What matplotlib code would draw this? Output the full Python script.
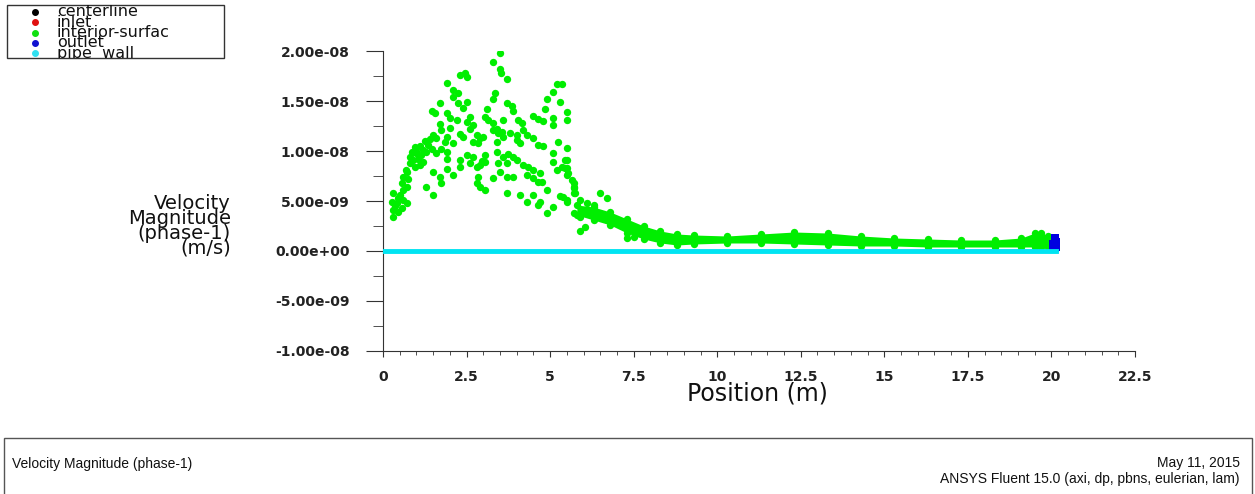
import numpy as np
import matplotlib
matplotlib.use("Agg")
import matplotlib.pyplot as plt
from matplotlib.patches import Rectangle

# velocity values below are in units of 1e-9 m/s
scatter_x = [3.50, 3.30, 3.50, 3.52, 3.70, 2.46, 2.50, 2.30, 1.91, 5.20, 5.35, 5.10,
             2.10, 2.25, 2.10, 3.35, 3.30, 3.70, 3.85, 3.90, 2.25, 2.50, 2.40, 1.70,
             4.90, 4.85, 5.30, 5.50, 5.50, 5.10, 5.10, 4.50, 4.65, 4.80, 1.46, 1.56,
             1.90, 2.00, 2.20, 2.60, 2.50, 2.70, 2.60, 3.10, 3.05, 3.15, 3.30, 3.60,
             3.40, 3.55, 4.05, 4.15, 4.20, 4.00, 1.70, 1.75, 2.00, 1.50, 1.60, 1.41,
             1.26, 1.90, 1.85, 2.10, 2.30, 2.40, 2.80, 2.90, 3.00, 2.70, 2.85, 3.30,
             3.45, 3.40, 3.60, 3.80, 4.00, 4.10, 4.30, 4.50, 4.65, 4.80, 5.25, 5.50,
             0.96, 1.10, 1.20, 1.00, 0.86, 1.30, 1.46, 1.60, 1.75, 1.90, 0.81, 0.91,
             1.06, 1.21, 0.81, 0.96, 1.10, 2.50, 2.70, 2.60, 3.05, 3.05, 3.40, 3.60,
             3.75, 3.90, 4.00, 4.20, 4.35, 1.90, 1.90, 2.30, 2.10, 2.80, 2.90, 3.45,
             3.70, 3.50, 4.50, 4.70, 4.75, 5.10, 5.10, 5.20, 5.35, 5.50, 5.45, 5.55,
             5.65, 5.70, 5.70, 1.50, 2.30, 0.71, 0.61, 0.76, 0.56, 0.71, 0.61, 1.70,
             1.75, 1.30, 1.50, 2.85, 2.80, 2.90, 3.05, 3.30, 3.70, 3.90, 4.30, 4.50,
             4.65, 3.70, 4.10, 4.30, 4.50, 4.70, 4.65, 4.90, 4.90, 5.10, 5.30, 5.50,
             0.31, 0.51, 0.26, 0.41, 0.61, 0.31, 0.46, 0.31, 0.71, 0.56, 0.36, 0.45,
             5.45, 5.50, 5.50, 5.70, 5.70, 5.75, 5.50, 5.40, 6.50, 6.70, 5.90, 6.10,
             6.30, 5.70, 5.90, 5.90, 6.05, 7.30, 7.50, 1.00, 1.15, 1.35, 0.70, 2.95]
scatter_v = [19.8, 18.9, 18.2, 17.8, 17.2, 17.8, 17.4, 17.6, 16.8, 16.7, 16.7, 15.9,
             16.1, 15.8, 15.4, 15.8, 15.2, 14.8, 14.5, 14.0, 14.8, 14.9, 14.3, 14.8,
             15.2, 14.2, 14.9, 13.9, 13.1, 13.3, 12.6, 13.5, 13.2, 13.0, 14.0, 13.8,
             13.8, 13.3, 13.1, 13.4, 12.9, 12.6, 12.2, 14.2, 13.4, 13.1, 12.8, 13.1,
             12.2, 11.9, 13.1, 12.8, 12.1, 11.6, 12.7, 12.1, 12.3, 11.6, 11.3, 11.2,
             11.0, 11.4, 10.9, 10.8, 11.7, 11.4, 11.6, 11.3, 11.4, 10.9, 10.8, 12.1,
             11.8, 10.9, 11.4, 11.8, 11.1, 10.8, 11.6, 11.3, 10.6, 10.5, 10.9, 10.3,
             10.4, 10.5, 10.1, 9.8, 9.9, 9.9, 10.2, 9.8, 10.2, 9.9, 9.4, 9.1,
             9.2, 8.9, 8.8, 8.4, 8.6, 9.6, 9.4, 8.8, 9.6, 8.9, 9.9, 9.4,
             9.7, 9.4, 9.1, 8.6, 8.4, 9.2, 8.2, 8.4, 7.6, 8.4, 8.6, 8.8,
             8.8, 7.9, 8.1, 7.8, 6.9, 9.8, 8.9, 8.1, 8.4, 9.1, 8.3, 7.8,
             7.1, 6.4, 5.8, 7.9, 9.1, 7.9, 7.4, 7.2, 6.8, 6.4, 6.1, 7.4,
             6.8, 6.4, 5.6, 7.4, 6.8, 6.4, 6.1, 7.3, 7.4, 7.4, 7.6, 7.3,
             6.9, 5.8, 5.6, 4.9, 5.6, 4.9, 4.6, 6.1, 3.8, 4.4, 5.5, 4.9,
             5.8, 5.6, 4.9, 4.8, 5.1, 4.1, 3.9, 3.4, 4.8, 4.3, 4.5, 5.3,
             9.1, 8.3, 7.6, 6.8, 6.3, 5.8, 5.1, 5.4, 5.8, 5.3, 5.1, 4.8,
             4.6, 3.8, 3.4, 2.0, 2.4, 1.3, 1.4, 10.0, 9.6, 10.6, 8.1, 9.0]

# dense band of interior-surface points downstream of x ~ 5.8 m
band_x = [5.8, 6.3, 6.8, 7.3, 7.8, 8.3, 8.8, 9.3, 10.3, 11.3, 12.3, 13.3,
          14.3, 15.3, 16.3, 17.3, 18.3, 19.1, 19.5, 19.7, 19.9, 20.05]
band_upper = [4.6, 4.4, 3.9, 3.2, 2.5, 2.0, 1.7, 1.6, 1.5, 1.7, 1.9, 1.8,
              1.5, 1.3, 1.2, 1.1, 1.1, 1.3, 1.8, 1.8, 1.5, 1.3]
band_lower = [3.6, 3.1, 2.6, 1.8, 1.2, 0.8, 0.6, 0.7, 0.8, 0.8, 0.7, 0.6,
              0.5, 0.5, 0.4, 0.4, 0.4, 0.4, 0.4, 0.4, 0.4, 0.4]

outlet_x = [20.05, 20.1, 20.15, 20.05, 20.1, 20.15, 20.1, 20.1]
outlet_v = [0.2, 0.3, 0.4, 0.7, 0.8, 0.9, 1.1, 1.3]

pipe_wall_x = [0.0, 20.15]
pipe_wall_v = [0.0, 0.0]

legend_names = ["centerline", "inlet", "interior-surfac", "outlet", "pipe  wall"]
legend_colors = ["black", "#e01010", "#10e010", "#1010d0", "#30e0f0"]

x_ticks = [0, 2.5, 5, 7.5, 10, 12.5, 15, 17.5, 20, 22.5]
y_ticks = [-1.0e-08, -5.0e-09, 0.0, 5.0e-09, 1.0e-08, 1.5e-08, 2.0e-08]

green = "#00ee00"
cyan = "#00e4f2"
blue = "#0000e0"

fig = plt.figure(figsize=(12.55, 4.94), dpi=100)
W, H = 1255, 494
ax = fig.add_axes([383 / W, 1 - 351 / H, (1135 - 383) / W, (351 - 51) / H])

e9 = 1e-9
ax.fill_between(band_x, np.array(band_lower) * e9, np.array(band_upper) * e9,
                color=green, lw=0, zorder=2)
ax.scatter(band_x, np.array(band_upper) * e9, s=28, color=green, lw=0, zorder=2)
ax.scatter(band_x, np.array(band_lower) * e9, s=28, color=green, lw=0, zorder=2)
ax.scatter(scatter_x, np.array(scatter_v) * e9, s=28, color=green, lw=0, zorder=3)
ax.scatter(outlet_x, np.array(outlet_v) * e9, s=30, marker="s", color=blue, lw=0, zorder=4)
ax.plot(pipe_wall_x, pipe_wall_v, color=cyan, lw=3.5, zorder=5)

ax.set_xlim(0, 22.5)
ax.set_ylim(-1e-8, 2e-8)
ax.spines["top"].set_visible(False)
ax.spines["right"].set_visible(False)
ax.spines["left"].set_color("#333333")
ax.spines["bottom"].set_color("#333333")

ax.set_xticks(x_ticks)
ax.set_xticklabels([f"{v:g}" for v in x_ticks])
ax.set_xticks(np.arange(0, 22.6, 0.5), minor=True)
ax.set_yticks(y_ticks)
ax.set_yticklabels([f"{v:.2e}" for v in y_ticks])
ax.set_yticks(np.arange(-1e-8, 2.01e-8, 2.5e-9), minor=True)
ax.tick_params(axis="y", which="major", length=12, pad=12, labelsize=10, colors="#333333")
ax.tick_params(axis="y", which="minor", length=7, colors="#333333")
ax.tick_params(axis="x", which="major", length=4, pad=10, labelsize=10, colors="#333333")
ax.tick_params(axis="x", which="minor", length=3, colors="#333333")
for lab in ax.get_xticklabels() + ax.get_yticklabels():
    lab.set_fontweight("bold")
    lab.set_color("#222222")

fig.text(757 / W, 1 - 394 / H, "Position (m)", ha="center", va="center",
         fontsize=17, color="#111111")
fig.text(231 / W, 1 - 226 / H, "Velocity\nMagnitude\n(phase-1)\n(m/s)",
         ha="right", va="center", fontsize=14, linespacing=0.72, multialignment="right",
         color="#111111")

# legend box in the top-left corner
leg_box = Rectangle((7 / W, 1 - 58 / H), (224 - 7) / W, (58 - 5) / H,
                    transform=fig.transFigure, fill=False, ec="#333333", lw=1)
fig.add_artist(leg_box)
for i, (name, col) in enumerate(zip(legend_names, legend_colors)):
    yy = 1 - (12 + i * 10.3) / H
    fig.add_artist(plt.Line2D([35 / W], [yy], marker="o", ms=4, color=col,
                              mec=col, transform=fig.transFigure))
    t = fig.text(57 / W, yy, name, ha="left", va="center", fontsize=11.5,
                 color="#111111")
    t.set_clip_path(leg_box)

# footer panel
footer = Rectangle((4 / W, -0.05), (1252 - 4) / W, 1 - 438 / H + 0.05,
                   transform=fig.transFigure, fill=False, ec="#555555", lw=1)
fig.add_artist(footer)
fig.text(12 / W, 1 - 464 / H, "Velocity Magnitude (phase-1)", ha="left", va="center",
         fontsize=10, family="Liberation Sans", color="#111111")
fig.text(1240 / W, 1 - 463 / H, "May 11, 2015", ha="right", va="center",
         fontsize=10, family="Liberation Sans", color="#111111")
fig.text(1240 / W, 1 - 479 / H, "ANSYS Fluent 15.0 (axi, dp, pbns, eulerian, lam)",
         ha="right", va="center", fontsize=10, family="Liberation Sans", color="#111111")

fig.savefig("out.png", dpi=100, facecolor="white")
